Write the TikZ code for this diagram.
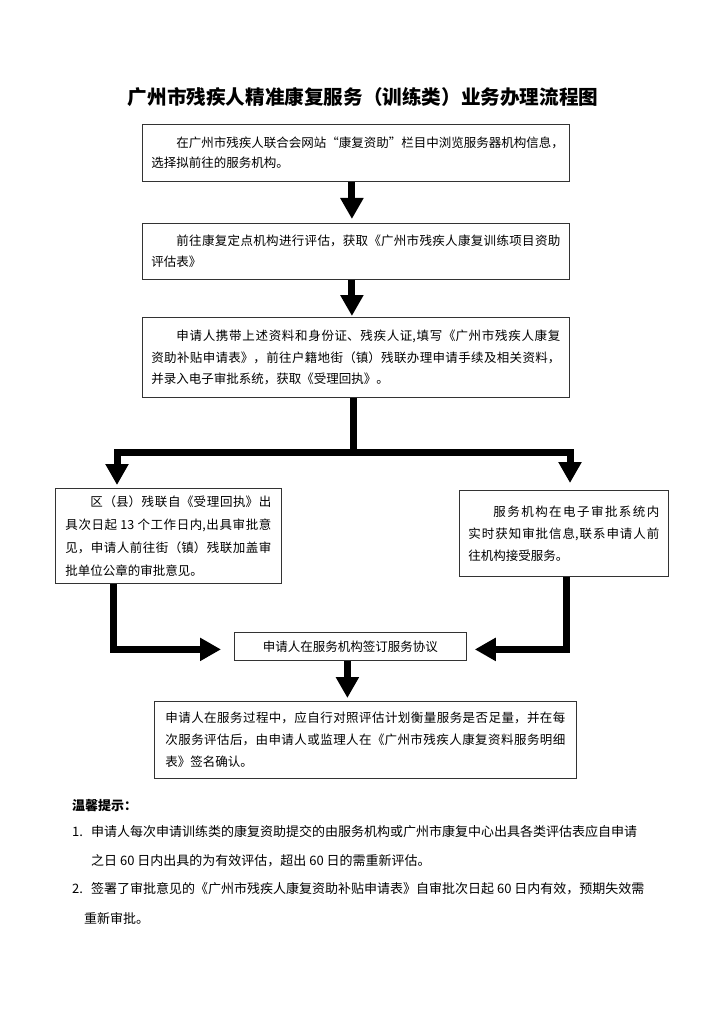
\documentclass[tikz,border=0pt]{standalone}
\usepackage{fontspec}
\setmainfont{Noto Sans CJK SC}
\usetikzlibrary{arrows.meta,calc}
\XeTeXlinebreaklocale "zh"
\XeTeXlinebreakskip=0pt plus 2pt
\begin{document}
\begin{tikzpicture}[x=1pt,y=-1pt,
  box/.style={draw=black!80, line width=0.8pt, anchor=north west, inner xsep=9pt, inner ysep=0pt, align=justify},
  fs/.style={font=\fontsize{12.5}{#1}\selectfont},
  fat/.style={line width=7pt, line join=miter, -{Triangle[length=21pt,width=22pt]}},
  note/.style={anchor=base west, inner sep=0pt, font=\fontsize{13}{15}\selectfont}
]
\useasboundingbox[fill=white] (0,0) rectangle (724,1024);

\node[font=\fontsize{19.6}{24}\selectfont\bfseries] (title) at (363,97) {广州市残疾人精准康复服务（训练类）业务办理流程图};

\node[box, fs=20.5, text width=409pt, minimum height=57pt] (b1) at (142,124)
 {\mbox{\hspace*{2em}在广州市残疾人联合会网站“康复资助”栏目中浏览服务器机构信息，}\linebreak 选择拟前往的服务机构。};

\node[box, fs=20.5, text width=409pt, minimum height=56pt] (b2) at (142,223)
 {\hspace*{2em}前往康复定点机构进行评估，获取《广州市残疾人康复训练项目资助\linebreak 评估表》};

\node[box, fs=21.5, text width=409pt, minimum height=80pt] (b3) at (142,317)
 {\hspace*{2em}申请人携带上述资料和身份证、残疾人证,填写《广州市残疾人康复\linebreak 资助补贴申请表》，前往户籍地街（镇）残联办理申请手续及相关资料，\linebreak 并录入电子审批系统，获取《受理回执》。};

\node[box, fs=23, inner xsep=10pt, text width=206pt, minimum height=95pt] (b4) at (55,488)
 {\hspace*{2em}区（县）残联自《受理回执》出\linebreak 具次日起 13 个工作日内,出具审批意\linebreak 见，申请人前往街（镇）残联加盖审\linebreak 批单位公章的审批意见。};

\node[box, fs=22, text width=191pt, minimum height=86pt] (b5) at (459,490)
 {\hspace*{2em}服务机构在电子审批系统内\linebreak 实时获知审批信息,联系申请人前\linebreak 往机构接受服务。};

\node[draw=black!80, line width=0.8pt, anchor=north west, minimum width=232pt, minimum height=28pt, inner sep=0pt, fs=15] (b6) at (234,632)
 {申请人在服务机构签订服务协议};

\node[box, fs=22, inner xsep=11pt, text width=400pt, minimum height=77pt] (b7) at (154,701)
 {申请人在服务过程中，应自行对照评估计划衡量服务是否足量，并在每\linebreak 次服务评估后，由申请人或监理人在《广州市残疾人康复资料服务明细\linebreak 表》签名确认。};

% connectors
\draw[fat, shorten >=4pt] ([xshift=-4pt]b1.south) -- ([xshift=-4pt]b1.south |- b2.north);
\draw[fat, shorten >=1pt] ([xshift=-4pt]b2.south) -- ([xshift=-4pt]b2.south |- b3.north);
\coordinate (j) at ($(b3.south)+(-2.5,55)$);
\coordinate (l) at ($(b4.north west)+(62,-3)$);
\coordinate (r) at ($(b5.north west)+(111,-7)$);
\draw[fat] ([xshift=-2.5pt]b3.south) -- (j) -| (l);
\draw[fat] ([xshift=-2.5pt]b3.south) -- (j) -| (r);
\draw[fat] ([xshift=58pt]b4.south west) |- ([xshift=-13pt,yshift=-3pt]b6.west);
\draw[fat] ([xshift=107pt]b5.south west) |- ([xshift=8pt,yshift=-3pt]b6.east);
\draw[fat, shorten >=3pt] ([xshift=-3pt]b6.south) -- ([xshift=-3pt]b6.south |- b7.north);

% notes
\node[note, font=\fontsize{13}{15}\selectfont\bfseries] (tip) at (72,810) {温馨提示：};
\node[note] (n1) at (72,836) {1.};
\node[note] (n1a) at (91,836) {申请人每次申请训练类的康复资助提交的由服务机构或广州市康复中心出具各类评估表应自申请};
\node[note] (n1b) at (91,865) {之日 60 日内出具的为有效评估，超出 60 日的需重新评估。};
\node[note] (n2) at (72,893) {2.};
\node[note] (n2a) at (91,893) {签署了审批意见的《广州市残疾人康复资助补贴申请表》自审批次日起 60 日内有效，预期失效需};
\node[note] (n2b) at (84,923) {重新审批。};
\end{tikzpicture}
\end{document}
